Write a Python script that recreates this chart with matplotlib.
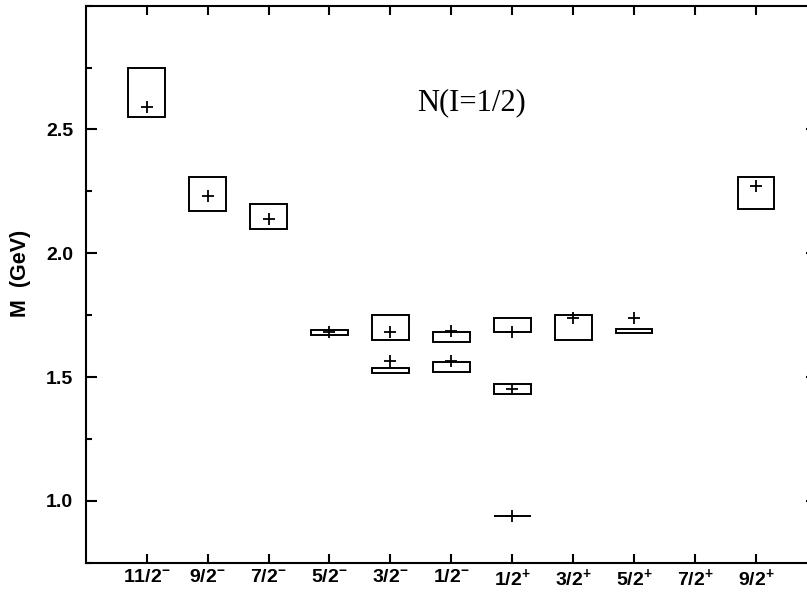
import matplotlib
matplotlib.use("Agg")
import matplotlib.pyplot as plt
from matplotlib.patches import Rectangle
from matplotlib.ticker import MultipleLocator

plt.rcParams['mathtext.fontset'] = 'custom'
plt.rcParams['mathtext.rm'] = 'Liberation Sans:bold'
plt.rcParams['mathtext.bf'] = 'Liberation Sans:bold'
plt.rcParams['mathtext.it'] = 'Liberation Sans:bold'

# categories (J^P)
spin_labels = [r'$11/2^{-}$', r'$9/2^{-}$', r'$7/2^{-}$', r'$5/2^{-}$', r'$3/2^{-}$',
               r'$1/2^{-}$', r'$1/2^{+}$', r'$3/2^{+}$', r'$5/2^{+}$', r'$7/2^{+}$', r'$9/2^{+}$']
positions = list(range(1, len(spin_labels) + 1))

# experimental boxes (mass ranges, GeV) and computed masses (crosses)
state_pos = [1, 2, 3, 4, 5, 5, 6, 6, 7, 7, 7, 8, 9, 11]
box_lo = [2.55, 2.17, 2.10, 1.67, 1.65, 1.515, 1.64, 1.52, 1.68, 1.43, 0.94, 1.65, 1.676, 2.18]
box_hi = [2.75, 2.31, 2.20, 1.69, 1.75, 1.535, 1.68, 1.56, 1.74, 1.47, 0.94, 1.75, 1.694, 2.31]
model_mass = [2.59, 2.23, 2.14, 1.68, 1.68, 1.565, 1.685, 1.565, 1.68, 1.45, 0.94, 1.74, 1.74, 2.27]

W, H, DPI = 807, 592, 100
fig = plt.figure(figsize=(W / DPI, H / DPI), dpi=DPI)
ax = fig.add_axes([85.7 / W, 1 - 562.7 / H, (817 - 85.7) / W, (562.7 - 5.7) / H])

half = 0.3
for p, lo, hi, m in zip(state_pos, box_lo, box_hi, model_mass):
    ax.add_patch(Rectangle((p - half, lo), 2 * half, hi - lo, fill=False,
                           edgecolor='black', linewidth=1.4))
    ax.plot([p], [m], marker='+', color='black', markersize=8, markeredgewidth=1.3)

ax.set_xlim(0, 12)
ax.set_ylim(0.75, 3.0)
ax.set_xticks(positions)
ax.set_xticklabels(spin_labels)
ax.yaxis.set_major_locator(MultipleLocator(0.5))
ax.yaxis.set_minor_locator(MultipleLocator(0.25))
ax.set_yticks([1.0, 1.5, 2.0, 2.5])
ax.set_yticklabels(['1.0', '1.5', '2.0', '2.5'])

for s in ax.spines.values():
    s.set_linewidth(1.5)

ax.tick_params(axis='x', which='major', direction='in', top=True, length=6.5, width=1.5, pad=3,
               labelsize=14)
ax.tick_params(axis='y', which='major', direction='in', right=True, length=8, width=1.5, pad=9,
               labelsize=14)
ax.tick_params(axis='y', which='minor', direction='in', right=True, length=4.3, width=1.5)
for lab in ax.get_yticklabels():
    lab.set_fontfamily('Liberation Sans')
    lab.set_fontweight('bold')

fig.text(21 / W, 1 - 273 / H, 'M  (GeV)', rotation=90, ha='center', va='center',
         fontsize=15.5, fontweight='bold', family='Liberation Sans')

ax.text(0.528, 0.826, 'N(I=1/2)', transform=ax.transAxes, ha='center', va='center',
        fontsize=22, family='Liberation Serif')

fig.savefig('out.png', dpi=DPI)
